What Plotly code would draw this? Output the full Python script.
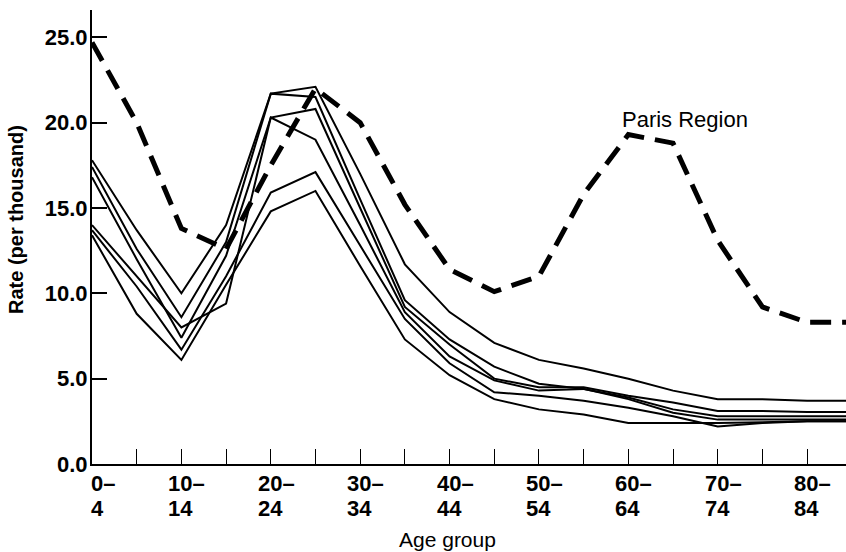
import plotly.graph_objects as go

age_index = list(range(18))
tick_positions = [0, 2, 4, 6, 8, 10, 12, 14, 16]
tick_top = ["0–", "10–", "20–", "30–", "40–", "50–", "60–", "70–", "80–"]
tick_bottom = ["4", "14", "24", "34", "44", "54", "64", "74", "84"]

paris = [24.7, 20.0, 13.8, 12.6, 17.5, 22.0, 20.0, 15.2, 11.4, 10.1, 11.0, 15.8,
         19.3, 18.8, 13.1, 9.2, 8.3, 8.3]

region_1 = [17.8, 13.7, 10.0, 14.0, 21.7, 22.1, 17.0, 11.7, 8.9, 7.1, 6.1, 5.6, 5.0, 4.3, 3.8, 3.8, 3.7, 3.7]
region_2 = [17.4, 12.6, 8.6, 13.0, 21.7, 21.5, 15.5, 9.6, 7.3, 5.7, 4.7, 4.4, 3.9, 3.2, 2.8, 2.8, 2.8, 2.8]
region_3 = [16.8, 12.0, 7.4, 12.2, 20.3, 20.8, 15.0, 9.2, 7.0, 5.0, 4.5, 4.5, 4.0, 3.6, 3.1, 3.1, 3.05, 3.05]
region_4 = [14.0, 11.0, 8.0, 9.4, 20.3, 19.0, 14.0, 8.9, 6.3, 4.9, 4.3, 4.4, 3.8, 3.0, 2.6, 2.6, 2.6, 2.6]
region_5 = [13.7, 10.4, 6.7, 11.0, 15.9, 17.1, 12.8, 8.5, 5.9, 4.2, 4.0, 3.7, 3.3, 2.8, 2.2, 2.4, 2.5, 2.5]
region_6 = [13.4, 8.8, 6.1, 10.5, 14.8, 16.0, 11.6, 7.3, 5.2, 3.8, 3.2, 2.9, 2.4, 2.4, 2.4, 2.45, 2.5, 2.5]

y_ticks = [0, 5, 10, 15, 20, 25]
y_tick_text = ["0.0", "5.0", "10.0", "15.0", "20.0", "25.0"]

FONT = "Liberation Sans, Arial, sans-serif"

fig = go.Figure()
for series in [region_1, region_2, region_3, region_4, region_5, region_6]:
    fig.add_trace(go.Scatter(x=age_index, y=series, mode="lines",
                             line=dict(color="black", width=2), showlegend=False))
fig.add_trace(go.Scatter(x=age_index, y=paris, mode="lines",
                         line=dict(color="black", width=5, dash="21px,11px"),
                         showlegend=False))

fig.update_layout(
    width=846, height=552,
    margin=dict(l=92, r=0, t=10, b=88),
    plot_bgcolor="white", paper_bgcolor="white",
    font=dict(family=FONT, size=21, color="black"),
    xaxis=dict(range=[0, 16.87], tickvals=list(range(1, 17)), ticks="inside",
               ticklen=15, tickwidth=1.2, tickcolor="black", showticklabels=False,
               showline=True, linecolor="black", linewidth=2, showgrid=False,
               zeroline=False),
    yaxis=dict(range=[0, 26.6], tickvals=y_ticks, ticktext=y_tick_text,
               ticks="inside", ticklen=15, tickwidth=2, tickcolor="black",
               showline=True, linecolor="black", linewidth=2, showgrid=False,
               zeroline=False, ticklabelstandoff=-2,
               tickfont=dict(family=FONT, size=22, color="black", weight="bold")),
)

for pos, top, bot in zip(tick_positions, tick_top, tick_bottom):
    shift = -3 if pos == 0 else -15
    for text, ys in ((top, -19), (bot, -44)):
        fig.add_annotation(x=pos, y=0, xref="x", yref="y", text=text, showarrow=False,
                           xanchor="left", yanchor="middle", yshift=ys, xshift=shift,
                           font=dict(family=FONT, size=22, color="black", weight="bold"))

fig.add_annotation(x=(447 - 92) / 754, y=-(539 - 464) / 454, xref="paper", yref="paper",
                   text="Age group", showarrow=False, xanchor="center",
                   yanchor="middle",
                   font=dict(family=FONT, size=21, color="black"))
fig.add_annotation(x=(19 - 92) / 754, y=(464 - 210) / 454, xref="paper", yref="paper",
                   text="Rate (per thousand)", showarrow=False, textangle=-90,
                   xanchor="center", yanchor="middle", xshift=-3, yshift=-10,
                   font=dict(family=FONT, size=20, color="black", weight="bold"))
fig.add_annotation(x=11.88, y=20.2, xref="x", yref="y", text="Paris Region",
                   showarrow=False, xanchor="left", yanchor="middle", xshift=-3,
                   font=dict(family=FONT, size=22, color="black"))

fig.write_html("out.html", config={"displayModeBar": False},
               post_script="document.body.style.margin='0';document.body.style.overflow='hidden';")
